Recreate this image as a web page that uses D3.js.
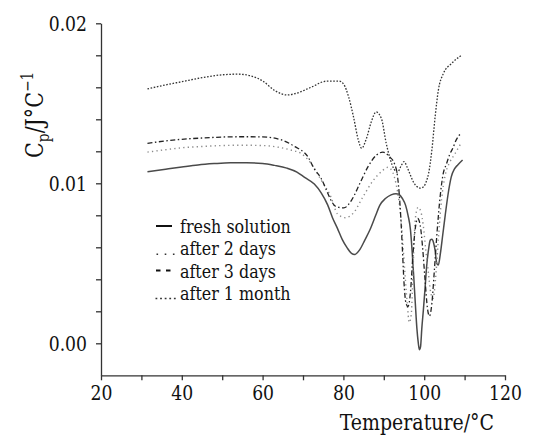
<!DOCTYPE html>
<html><head><meta charset="utf-8">
<script src="https://cdn.jsdelivr.net/npm/d3@7"></script>
<style>
html,body{margin:0;padding:0;background:#fff;}
svg{display:block;}
</style></head>
<body>
<svg id="chart" width="534" height="437"></svg>
<script>
// ---- data (Temperature °C, Cp J/°C) ----
const fresh = [[31.5,0.01072],[36,0.01088],[40,0.01102],[44,0.01115],[48,0.01123],[52,0.01128],[56,0.01128],[60,0.01124],[63,0.01112],[66,0.01095],[68.5,0.0107],[70.5,0.01035],[72.8,0.00995],[74.5,0.0094],[76.1,0.00865],[77.3,0.00785],[78.5,0.0072],[79.7,0.0065],[80.9,0.00598],[82,0.00562],[82.8,0.00555],[84.1,0.00587],[85.3,0.00645],[86.6,0.00711],[88,0.008],[89,0.00862],[90.4,0.00905],[91.8,0.00928],[93,0.00935],[93.8,0.0093],[94.6,0.00905],[95.4,0.00862],[96,0.008],[96.6,0.0071],[97,0.0058],[97.4,0.0042],[97.8,0.0025],[98.2,0.0009],[98.5,0.0001],[98.8,-0.0004],[99.1,-0.0002],[99.4,0.0009],[99.8,0.0021],[100.2,0.0034],[100.6,0.0048],[101.1,0.0059],[101.5,0.00645],[101.9,0.0065],[102.3,0.0063],[102.7,0.0058],[103.1,0.005],[103.5,0.0049],[104,0.0056],[104.6,0.0068],[105.2,0.008],[105.9,0.0093],[106.7,0.0104],[107.5,0.0109],[108.3,0.01115],[109.5,0.01146]];
const days2 = [[31.5,0.01195],[36,0.0121],[40,0.01222],[45,0.0123],[50,0.01236],[55,0.01238],[60,0.01236],[64,0.01225],[67,0.01208],[69.6,0.01185],[72,0.01125],[74.5,0.0102],[76.9,0.00915],[78.5,0.0081],[80.5,0.00785],[82.5,0.00815],[84.9,0.00918],[87.3,0.01015],[89.5,0.01075],[91,0.011],[92,0.0108],[93,0.01],[93.8,0.0088],[94.5,0.007],[95.2,0.0045],[95.8,0.0025],[96.3,0.0013],[96.8,0.0018],[97.3,0.005],[97.8,0.0078],[98.5,0.0085],[99.2,0.0082],[99.8,0.0073],[100.4,0.0058],[101,0.0045],[101.6,0.0032],[102.2,0.0028],[102.8,0.004],[103.5,0.0065],[104.3,0.009],[105.2,0.0105],[106.3,0.0113],[107.5,0.0118],[109.1,0.0125]];
const days3 = [[31.5,0.0125],[36,0.01265],[40,0.01275],[45,0.01283],[50,0.01289],[55,0.01291],[60,0.0129],[64.8,0.0127],[68,0.01229],[71.2,0.01166],[72.8,0.0109],[74.5,0.0103],[76.1,0.00939],[77,0.0089],[78.1,0.00856],[80.1,0.00846],[82.1,0.00898],[84.1,0.01001],[86.1,0.01104],[88.2,0.01177],[89.8,0.01195],[91.4,0.01166],[92.6,0.01125],[93.4,0.01042],[93.8,0.0094],[94.2,0.0079],[94.6,0.0059],[95,0.0038],[95.5,0.0025],[96,0.0023],[96.6,0.0032],[97.2,0.0055],[97.8,0.0072],[98.4,0.0078],[99,0.0074],[99.6,0.006],[100.2,0.004],[100.8,0.0022],[101.3,0.0017],[101.9,0.0025],[102.5,0.0045],[103.2,0.007],[104,0.0093],[104.7,0.0106],[105.5,0.0112],[106.3,0.0118],[107.1,0.0122],[107.9,0.0127],[109.1,0.01312]];
const month1 = [[31.5,0.0159],[36,0.01615],[40,0.01635],[45,0.0166],[50,0.01678],[54,0.01682],[57,0.01672],[60,0.0164],[63,0.0158],[66,0.01552],[68,0.0156],[72,0.016],[75.7,0.01638],[78.9,0.01639],[80.1,0.01618],[81.3,0.01539],[82.5,0.01415],[83.7,0.0127],[84.5,0.01219],[85.7,0.0128],[86.9,0.01384],[88.1,0.01446],[89.4,0.01405],[90.6,0.0125],[91.6,0.0115],[92.5,0.0109],[93.4,0.0107],[94.3,0.0111],[95,0.01135],[95.8,0.011],[96.6,0.0105],[97.4,0.01005],[98.2,0.0098],[99,0.0097],[99.9,0.0098],[100.5,0.0101],[101.1,0.01063],[101.9,0.01208],[102.7,0.01415],[103.5,0.01581],[104.7,0.01684],[106.7,0.01747],[109.1,0.01798]];

const seriesNames = ["fresh solution","after 2 days","after 3 days","after 1 month"];
const xTicks = [20,30,40,50,60,70,80,90,100,110,120];
const xLabels = [20,40,60,80,100,120];
const yTicks = [0,0.002,0.004,0.006,0.008,0.01,0.012,0.014,0.016,0.018,0.02];
const yLabels = [0,0.01,0.02];

// ---- drawing ----
const FONT = "DejaVu Serif";
const K = 0.86; // horizontal condensing to approximate a Times-like face
function condense(sel){
  sel.each(function(){
    const t = this.textContent;
    if(!t) return;
    const w = this.getComputedTextLength();
    if(w>0) d3.select(this).attr("textLength", (w*K).toFixed(1)).attr("lengthAdjust","spacingAndGlyphs");
  });
}
const svg = d3.select("#chart");
const x = d3.scaleLinear().domain([20,120]).range([101,505]);
const y = d3.scaleLinear().domain([-0.002,0.02]).range([375.3,23.3]);

const xAxis = d3.axisBottom(x).tickValues(xTicks).tickSize(5).tickSizeOuter(0).tickPadding(4)
  .tickFormat(d => xLabels.includes(d) ? String(d) : "");
const yAxis = d3.axisLeft(y).tickValues(yTicks).tickSize(5).tickSizeOuter(0).tickPadding(9)
  .tickFormat(d => yLabels.some(v => Math.abs(v-d)<1e-9) ? d3.format(".2f")(d) : "");

const gx = svg.append("g").attr("transform",`translate(0,${y(-0.002)})`).call(xAxis);
const gy = svg.append("g").attr("transform",`translate(${x(20)},0)`).call(yAxis);
[gx,gy].forEach(g=>{
  g.attr("font-family",FONT).attr("font-size",20);
  g.selectAll("path,line").attr("stroke","#333").attr("stroke-width",1.3);
  g.selectAll("text").attr("fill","#111");
  condense(g.selectAll("text"));
});
gx.selectAll("text").attr("dy","0.8em");
gy.selectAll("text").attr("dy","0.38em");

// axis titles
const xt = svg.append("text").attr("x",494).attr("y",430).attr("text-anchor","end").attr("font-family",FONT)
  .attr("font-size",22).attr("fill","#111").text("Temperature/°C");
condense(xt);
const yl = svg.append("text").attr("transform","translate(43,158) rotate(-90)").attr("font-family",FONT)
  .attr("text-anchor","start").attr("font-size",24).attr("fill","#111");
yl.append("tspan").text("C");
yl.append("tspan").attr("dy","6").attr("font-size",16).text("p");
yl.append("tspan").attr("dy","-6").text("/J°C");
yl.append("tspan").attr("dy","-10").attr("font-size",16).text("−1");
condense(yl);

// series lines
const line = d3.line().x(d=>x(d[0])).y(d=>y(d[1])).curve(d3.curveMonotoneX);
const styles = [
  {data:fresh, stroke:"#4a4a4a", w:1.5, dash:null},
  {data:days2, stroke:"#8a8a8a", w:1.4, dash:"1.3,3.2"},
  {data:days3, stroke:"#222", w:1.3, dash:"5,2.5,1.5,2.5"},
  {data:month1, stroke:"#333", w:1.3, dash:"1.6,1.6"}
];
svg.append("g").selectAll("path").data(styles).join("path")
  .attr("d",s=>line(s.data)).attr("fill","none")
  .attr("stroke",s=>s.stroke).attr("stroke-width",s=>s.w)
  .attr("stroke-dasharray",s=>s.dash);

// legend
const legY = [233,255.3,277.5,299.5];
const lg = svg.append("g");
const lt = lg.selectAll("text").data(seriesNames).join("text").attr("font-family",FONT)
  .attr("x",180).attr("y",(d,i)=>legY[i]).attr("font-size",18.5).attr("fill","#111").text(d=>d);
condense(lt);
lg.append("line").attr("x1",156).attr("x2",172).attr("y1",legY[0]-7).attr("y2",legY[0]-7)
  .attr("stroke","#111").attr("stroke-width",2);
lg.append("line").attr("x1",156.5).attr("x2",176).attr("y1",legY[1]-1).attr("y2",legY[1]-1)
  .attr("stroke","#333").attr("stroke-width",1.6).attr("stroke-dasharray","1.6,6.6");
lg.append("line").attr("x1",156).attr("x2",172).attr("y1",legY[2]-7).attr("y2",legY[2]-7)
  .attr("stroke","#111").attr("stroke-width",2).attr("stroke-dasharray","4.5,5.5");
lg.append("line").attr("x1",155.5).attr("x2",178).attr("y1",legY[3]-1).attr("y2",legY[3]-1)
  .attr("stroke","#333").attr("stroke-width",1.6).attr("stroke-dasharray","1.8,2.8");
</script>
</body></html>
